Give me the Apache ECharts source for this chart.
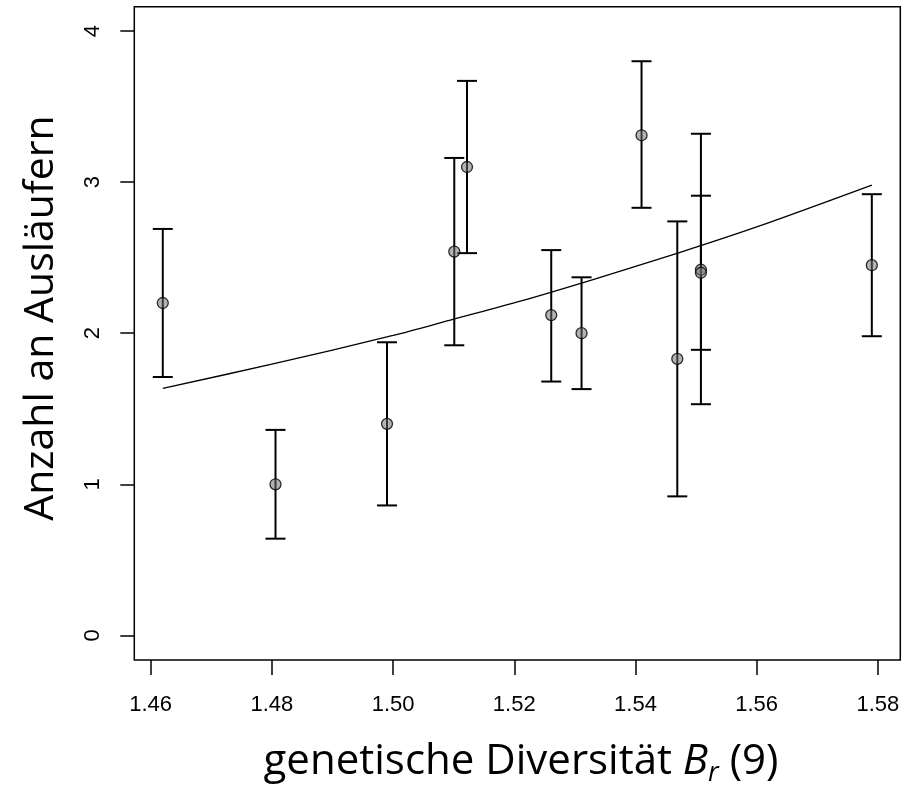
<!DOCTYPE html>
<html>
<head>
<meta charset="utf-8">
<script src="https://cdn.jsdelivr.net/npm/echarts@6/dist/echarts.min.js"></script>
<style>
  html, body { margin: 0; padding: 0; background: #fff; }
  #main { width: 912px; height: 789px; }
</style>
</head>
<body>
<div id="main"></div>
<script>
// genetic diversity (x) and mean number of runners (y) with interval ends
var diversity = [1.462, 1.4806, 1.499, 1.5101, 1.5122, 1.5261, 1.5311, 1.541, 1.5469, 1.5508, 1.5508, 1.579];
var runners   = [2.20, 1.00, 1.40, 2.54, 3.10, 2.12, 2.00, 3.31, 1.83, 2.42, 2.40, 2.45];
var lower     = [1.71, 0.64, 0.86, 1.92, 2.53, 1.68, 1.63, 2.83, 0.92, 1.53, 1.89, 1.98];
var upper     = [2.69, 1.36, 1.94, 3.16, 3.67, 2.55, 2.37, 3.80, 2.74, 3.32, 2.91, 2.92];

// fitted curve
var fitX = [1.462, 1.480, 1.500, 1.510, 1.521, 1.533, 1.547, 1.560, 1.579];
var fitY = [1.635, 1.795, 1.985, 2.093, 2.212, 2.355, 2.530, 2.703, 2.98];

var xTicks = [1.46, 1.48, 1.50, 1.52, 1.54, 1.56, 1.58];
var yTicks = [0, 1, 2, 3, 4];

var chart = echarts.init(document.getElementById('main'));

var points = diversity.map(function (d, i) { return [d, runners[i]]; });
var bars = diversity.map(function (d, i) { return [d, lower[i], upper[i]]; });
var fit = fitX.map(function (d, i) { return [d, fitY[i]]; });

function renderBar(params, api) {
  var lo = api.coord([api.value(0), api.value(1)]);
  var hi = api.coord([api.value(0), api.value(2)]);
  var w = 10;
  var style = { stroke: '#000', lineWidth: 2 };
  return {
    type: 'group',
    children: [
      { type: 'line', shape: { x1: lo[0], y1: lo[1], x2: hi[0], y2: hi[1] }, style: style },
      { type: 'line', shape: { x1: lo[0] - w, y1: lo[1], x2: lo[0] + w, y2: lo[1] }, style: style },
      { type: 'line', shape: { x1: hi[0] - w, y1: hi[1], x2: hi[0] + w, y2: hi[1] }, style: style }
    ]
  };
}

var option = {
  backgroundColor: '#fff',
  animation: false,
  grid: {
    left: 134.3,
    right: 11.7,
    top: 6.7,
    bottom: 129,
    show: true,
    borderColor: '#000',
    borderWidth: 1.5,
    outerBoundsMode: 'none'
  },
  xAxis: {
    type: 'value',
    min: 1.4573,
    max: 1.5837,
    splitLine: { show: false },
    axisLine: { show: false, onZero: false },
    axisTick: {
      show: true,
      length: 15,
      customValues: xTicks,
      lineStyle: { color: '#000', width: 1.5 }
    },
    axisLabel: {
      customValues: xTicks,
      margin: 34,
      color: '#000',
      fontFamily: 'Liberation Sans',
      fontSize: 22,
      formatter: function (v) { return v.toFixed(2); }
    }
  },
  yAxis: {
    type: 'value',
    min: -0.163,
    max: 4.161,
    splitLine: { show: false },
    axisLine: { show: false, onZero: false },
    axisTick: {
      show: true,
      length: 14,
      customValues: yTicks,
      lineStyle: { color: '#000', width: 1.5 }
    },
    axisLabel: {
      customValues: yTicks,
      rotate: 90,
      margin: 30,
      color: '#000',
      fontFamily: 'Liberation Sans',
      fontSize: 22
    }
  },
  graphic: [
    {
      type: 'text',
      x: 521,
      y: 762,
      style: {
        text: '{n|genetische Diversität }{i|B}{s|r}{n| (9)}',
        textAlign: 'center',
        textVerticalAlign: 'middle',
        rich: {
          n: { fontFamily: 'Open Sans', fontSize: 42, lineHeight: 50, fill: '#000' },
          i: { fontFamily: 'Open Sans', fontSize: 42, lineHeight: 50, fontStyle: 'italic', fill: '#000' },
          s: { fontFamily: 'Open Sans', fontSize: 27, fontStyle: 'italic', verticalAlign: 'bottom', fill: '#000' }
        }
      }
    },
    {
      type: 'text',
      x: 41,
      y: 318,
      rotation: Math.PI / 2,
      style: {
        text: 'Anzahl an Ausläufern',
        fontFamily: 'Open Sans',
        fontSize: 41,
        fill: '#000',
        textAlign: 'center',
        textVerticalAlign: 'middle'
      }
    }
  ],
  series: [
    {
      type: 'custom',
      renderItem: renderBar,
      data: bars,
      encode: { x: 0, y: [1, 2] },
      z: 2
    },
    {
      type: 'line',
      data: fit,
      smooth: 0.3,
      symbol: 'none',
      lineStyle: { color: '#000', width: 1.3 },
      z: 3
    },
    {
      type: 'scatter',
      data: points,
      symbol: 'circle',
      symbolSize: 11,
      itemStyle: { color: 'rgba(110,110,110,0.65)', borderColor: '#000', borderWidth: 1.3 },
      z: 4
    }
  ]
};

chart.setOption(option);
</script>
</body>
</html>
